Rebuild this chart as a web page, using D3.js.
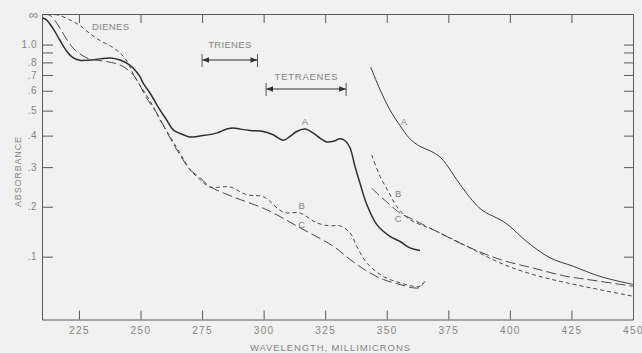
<!DOCTYPE html>
<html>
<head>
<meta charset="utf-8">
<script src="https://cdn.jsdelivr.net/npm/d3@7"></script>
<style>
    body { margin: 0; background: #f1f1f1; }
    svg { display: block; font-family: "Liberation Sans", Arial, sans-serif; }
    .axis path, .axis line { stroke: #5a5a5a; stroke-width: 1; }
    .axis text { fill: #858585; font-size: 10px; letter-spacing: 1.4px; }
    .lbl { fill: #858585; font-size: 9.5px; }
</style>
</head>
<body>
<div id="chart"></div>
<script>
// wavelength ticks (millimicrons)
var waveTicks = [225, 250, 275, 300, 325, 350, 375, 400, 425, 450];

// absorbance ticks, the axis is drawn linear in transmittance
var absTicks = [1.0, 0.9, 0.8, 0.7, 0.6, 0.5, 0.4, 0.3, 0.2, 0.1];
var absLabels = ["1.0", "", ".8", ".7", ".6", ".5", ".4", ".3", ".2", ".1"];

// curve A, first cell (heavy line) [wavelength, absorbance]
var curveA1 = [[210.3, 1.88], [211.7, 1.73], [214.5, 1.32], [217.2, 1.07], [219.9, 0.92],
    [222.6, 0.845], [225.3, 0.82], [228.7, 0.82], [233.6, 0.833], [237.6, 0.842],
    [241.7, 0.823], [244.4, 0.793], [247, 0.753], [249.8, 0.688], [251, 0.647],
    [253.9, 0.586], [257.9, 0.503], [260.6, 0.46], [263.3, 0.421], [267.4, 0.403],
    [270.1, 0.395], [274.2, 0.399], [280.9, 0.409], [285, 0.424], [287.7, 0.428],
    [290.4, 0.424], [294.5, 0.419], [299.9, 0.415], [303.9, 0.403], [308, 0.384],
    [310.7, 0.397], [313.4, 0.415], [316.8, 0.424], [320.2, 0.409], [322.9, 0.391],
    [325.6, 0.378], [328.3, 0.38], [331, 0.389], [333, 0.383], [335.1, 0.358],
    [337.1, 0.302], [339.2, 0.255], [341.9, 0.205], [345.9, 0.162], [351.3, 0.138],
    [355.4, 0.128], [359.4, 0.116], [363.5, 0.111]];

// curve A, second cell (light line)
var curveA2 = [[343.5, 0.759], [347.3, 0.605], [351.3, 0.503], [355.4, 0.437], [359.4, 0.389],
    [363.5, 0.363], [367.6, 0.349], [371.6, 0.33], [374.3, 0.307], [378.4, 0.266],
    [383.8, 0.221], [387.9, 0.196], [390.6, 0.186], [396, 0.172], [400, 0.158],
    [406.8, 0.128], [416.3, 0.098], [425.8, 0.083], [436.6, 0.066], [450, 0.053]];

// curve B (short dashes)
var curveB1 = [[215.3, 2.7], [217.3, 2.31], [222.2, 1.64], [225.4, 1.425], [229.5, 1.19],
    [233.6, 1.06], [238.8, 0.961], [242.5, 0.873], [244.9, 0.796], [247.4, 0.694],
    [252.6, 0.572], [255.9, 0.503], [257.9, 0.46], [262, 0.397], [266, 0.342],
    [270.1, 0.293], [274.2, 0.266], [278.2, 0.247], [286.3, 0.247], [293.1, 0.228],
    [299.9, 0.223], [308, 0.188], [314.8, 0.186], [321.6, 0.165], [327, 0.159],
    [331, 0.159], [335.1, 0.145], [337.8, 0.119], [341.9, 0.089], [348.6, 0.066],
    [355.4, 0.0555], [360.8, 0.05], [363.5, 0.05], [365.5, 0.058]];
var curveB2 = [[343.9, 0.336], [347.3, 0.274], [350.9, 0.233], [354, 0.201], [359.4, 0.172],
    [368.9, 0.151], [382.5, 0.119], [396, 0.089], [409.5, 0.069], [423.1, 0.0555],
    [450, 0.0344]];

// curve C (long dashes)
var curveC1 = [[210.4, 2.64], [213.2, 2.37], [216.5, 1.444], [219.7, 1.105], [222.6, 0.954],
    [225.4, 0.884], [228.3, 0.842], [231.5, 0.823], [236.3, 0.807], [241.7, 0.778],
    [247.1, 0.7], [252.5, 0.56], [256.6, 0.489], [262, 0.392], [266, 0.336],
    [270.1, 0.293], [274.2, 0.271], [278.2, 0.248], [287.6, 0.223], [301.4, 0.193],
    [314.8, 0.155], [328.3, 0.119], [335.1, 0.095], [341.9, 0.075], [348.6, 0.061],
    [355.4, 0.0528], [360.8, 0.0475], [363.5, 0.048], [364.9, 0.0555]];
var curveC2 = [[343.9, 0.244], [355.4, 0.186], [359.4, 0.1755], [368.9, 0.151], [382.5, 0.119],
    [396, 0.095], [409.5, 0.08], [423.1, 0.066], [429.8, 0.062], [450, 0.05]];

// curve letters [text, wavelength, absorbance]
var curveLabels = [["A", 316.8, 0.452], ["A", 357, 0.452],
    ["B", 315.5, 0.202], ["B", 354.6, 0.231],
    ["C", 315.5, 0.161], ["C", 354.6, 0.174]];

// band ranges [name, from, to]
var bands = [["TRIENES", 275, 297.5], ["TETRAENES", 301, 333.5]];

var chartW = 642, chartH = 353;
var plotL = 42, plotR = 633, plotT = 14, plotB = 319.5;

var svg = d3.select("#chart").append("svg")
    .attr("width", chartW)
    .attr("height", chartH);

var xScale = d3.scaleLinear().domain([210, 450]).range([plotL, plotR]);
// transmittance 0..1 -> pixels
var tScale = d3.scaleLinear().domain([0, 1]).range([plotT, plotB]);
var yAbs = function (a) { return tScale(Math.pow(10, -a)); };

// arrow head for the band markers
svg.append("defs").append("marker")
    .attr("id", "head")
    .attr("viewBox", "0 0 10 10")
    .attr("refX", 10).attr("refY", 5)
    .attr("markerWidth", 7).attr("markerHeight", 7)
    .attr("markerUnits", "userSpaceOnUse")
    .attr("orient", "auto-start-reverse")
    .append("path")
    .attr("d", "M0,1L10,5L0,9Z")
    .attr("fill", "#333");

// axes
var tickVals = absTicks.map(function (a) { return Math.pow(10, -a); });
var absFmt = function (d, i) { return absLabels[i]; };

svg.append("g").attr("class", "axis")
    .attr("transform", "translate(0," + plotB + ")")
    .call(d3.axisBottom(xScale).tickValues(waveTicks).tickFormat(d3.format("d"))
        .tickSizeInner(-9).tickSizeOuter(0).tickPadding(7));

svg.append("g").attr("class", "axis")
    .attr("transform", "translate(0," + plotT + ")")
    .call(d3.axisTop(xScale).tickValues(waveTicks.slice(0, -1)).tickFormat("")
        .tickSizeInner(-9).tickSizeOuter(0));

var yLeft = svg.append("g").attr("class", "axis")
    .attr("transform", "translate(" + plotL + ",0)")
    .call(d3.axisLeft(tScale).tickValues(tickVals).tickFormat(absFmt)
        .tickSizeInner(-11).tickSizeOuter(0).tickPadding(5));
yLeft.selectAll("text").style("letter-spacing", "0.5px");

svg.append("g").attr("class", "axis")
    .attr("transform", "translate(" + plotR + ",0)")
    .call(d3.axisRight(tScale).tickValues(tickVals).tickFormat("")
        .tickSizeInner(-9).tickSizeOuter(0));

// infinity mark at the top of the absorbance scale
svg.append("text").attr("class", "lbl")
    .attr("x", plotL - 4).attr("y", tScale(0))
    .attr("dy", "0.35em")
    .attr("text-anchor", "end")
    .style("font-size", "13px")
    .text("\u221e");

// axis titles
svg.append("text").attr("class", "lbl")
    .attr("transform", "translate(21,172) rotate(-90)")
    .attr("text-anchor", "middle")
    .attr("textLength", 70).attr("lengthAdjust", "spacing")
    .style("font-size", "9px")
    .text("ABSORBANCE");

svg.append("text").attr("class", "lbl")
    .attr("x", 250).attr("y", 351)
    .attr("textLength", 160).attr("lengthAdjust", "spacing")
    .style("font-size", "9.5px")
    .text("WAVELENGTH, MILLIMICRONS");

// curves
var line = d3.line()
    .x(function (d) { return xScale(d[0]); })
    .y(function (d) { return yAbs(d[1]); })
    .curve(d3.curveCatmullRom.alpha(0.5));

var series = [
    { data: curveA1, w: 1.5, dash: null, col: "#2e2e2e" },
    { data: curveA2, w: 1, dash: null, col: "#3a3a3a" },
    { data: curveB1, w: 1, dash: "4,3", col: "#4a4a4a" },
    { data: curveB2, w: 1, dash: "4,3", col: "#4a4a4a" },
    { data: curveC1, w: 1, dash: "10,4", col: "#4a4a4a" },
    { data: curveC2, w: 1, dash: "10,4", col: "#4a4a4a" }
];

svg.selectAll(".curve")
    .data(series)
    .enter().append("path")
    .attr("class", "curve")
    .attr("d", function (d) { return line(d.data); })
    .attr("fill", "none")
    .attr("stroke", function (d) { return d.col; })
    .attr("stroke-width", function (d) { return d.w; })
    .attr("stroke-dasharray", function (d) { return d.dash; });

svg.selectAll(".curveLbl")
    .data(curveLabels)
    .enter().append("text")
    .attr("class", "lbl curveLbl")
    .attr("x", function (d) { return xScale(d[1]); })
    .attr("y", function (d) { return yAbs(d[2]); })
    .attr("dy", "0.35em")
    .attr("text-anchor", "middle")
    .text(function (d) { return d[0]; });

// band annotations
svg.append("text").attr("class", "lbl")
    .attr("x", 92).attr("y", 30)
    .attr("textLength", 37).attr("lengthAdjust", "spacing")
    .text("DIENES");

var bandY = [60, 89], bandTextY = [48, 80], bandTextW = [43, 63];
bands.forEach(function (b, i) {
    var x0 = xScale(b[1]), x1 = xScale(b[2]);
    var g = svg.append("g");
    g.append("line")
        .attr("x1", x0).attr("x2", x1)
        .attr("y1", bandY[i]).attr("y2", bandY[i])
        .attr("stroke", "#333")
        .attr("marker-start", "url(#head)")
        .attr("marker-end", "url(#head)");
    [x0, x1].forEach(function (x) {
        g.append("line")
            .attr("x1", x).attr("x2", x)
            .attr("y1", bandY[i] - 6).attr("y2", bandY[i] + 7)
            .attr("stroke", "#555");
    });
    g.append("text").attr("class", "lbl")
        .attr("x", (x0 + x1) / 2 - bandTextW[i] / 2)
        .attr("y", bandTextY[i])
        .attr("textLength", bandTextW[i]).attr("lengthAdjust", "spacing")
        .text(b[0]);
});
</script>
</body>
</html>
